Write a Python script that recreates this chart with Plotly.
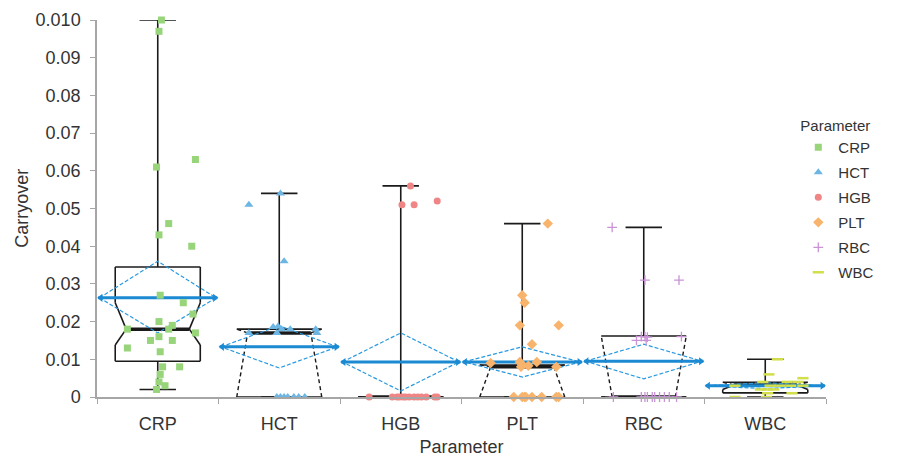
import plotly.graph_objects as go

categories = ["CRP", "HCT", "HGB", "PLT", "RBC", "WBC"]

# individual observations (value) and horizontal jitter (category units)
crp_vals = [0.100, 0.097, 0.063, 0.061, 0.046, 0.043, 0.040, 0.027, 0.025, 0.022, 0.020, 0.019, 0.018,
            0.018, 0.017, 0.016, 0.015, 0.015, 0.013, 0.012, 0.008, 0.008, 0.006, 0.004, 0.003, 0.002]
crp_jit = [0.03, 0.01, 0.31, -0.01, 0.09, 0.01, 0.28, 0.02, 0.21, 0.29, 0.01, 0.12, 0.09,
           -0.25, 0.31, 0.01, -0.06, 0.12, -0.25, 0.02, 0.04, 0.18, 0.02, 0.01, 0.06, -0.01]

hct_vals = [0.054, 0.051, 0.036, 0.0186, 0.0187, 0.018, 0.018, 0.018, 0.017, 0.017, 0.017,
            0, 0, 0, 0, 0, 0, 0]
hct_jit = [0.01, -0.25, 0.04, -0.05, -0.01, 0.02, 0.09, 0.30, 0.31, -0.25, -0.02,
           -0.02, 0.01, 0.04, 0.07, 0.12, 0.16, 0.21]

hgb_vals = [0.056, 0.051, 0.051, 0.052, 0, 0, 0, 0, 0, 0, 0, 0, 0, 0, 0, 0, 0]
hgb_jit = [0.08, 0.01, 0.11, 0.30, -0.26, -0.07, -0.03, -0.01, 0.02, 0.04, 0.07, 0.11, 0.14,
           0.17, 0.21, 0.28, 0.30]

plt_vals = [0.046, 0.027, 0.025, 0.019, 0.019, 0.014, 0.009, 0.0093, 0.0085, 0.008, 0.0083, 0.0093,
            0.008, 0, 0, 0, 0, 0, 0, 0, 0]
plt_jit = [0.21, 0.0, 0.02, -0.02, 0.30, 0.08, -0.26, -0.02, 0.0, -0.01, 0.05, 0.12,
           0.28, -0.07, 0.0, 0.02, 0.03, 0.08, 0.16, 0.28, 0.30]

rbc_vals = [0.045, 0.031, 0.031, 0.016, 0.016, 0.0159, 0.016, 0.015, 0.015,
            0, 0, 0, 0, 0, 0, 0, 0, 0, 0]
rbc_jit = [-0.26, 0.01, 0.29, -0.02, 0.01, 0.03, 0.31, -0.06, 0.02,
           -0.25, -0.02, 0.01, 0.03, 0.07, 0.09, 0.13, 0.17, 0.21, 0.27]

wbc_vals = [0.010, 0.006, 0.005, 0.004, 0.004, 0.004, 0.003, 0.003, 0.003, 0.003, 0.003,
            0.002, 0.002, 0.002, 0.001, 0.001, 0, 0]
wbc_jit = [0.10, 0.03, 0.31, -0.02, 0.18, 0.27, -0.25, 0.04, 0.12, 0.21, 0.31,
           -0.04, 0.02, 0.07, 0.02, 0.22, -0.25, 0.01]

# summary statistics per category
whisk_lo = [0.002, 0, 0, 0, 0, 0]
q1 = [0.0095, 0, 0, 0, 0, 0.0011]
median = [0.018, 0.017, 0, 0.008, 0, 0.0032]
q3 = [0.0345, 0.018, 0, 0.0085, 0.0162, 0.0039]
whisk_hi = [0.100, 0.054, 0.056, 0.046, 0.045, 0.010]
notch_lo = [0.0138, 0, 0, 0, 0, 0.0020]
notch_hi = [0.025, 0.018, 0, 0.0085, 0.0162, 0.0042]
means = [0.0263, 0.0133, 0.0093, 0.0093, 0.0095, 0.0030]
ci_lo = [0.017, 0.0077, 0.0016, 0.0053, 0.0048, 0.0022]
ci_hi = [0.036, 0.0189, 0.017, 0.0133, 0.014, 0.0038]

y_tickvals = [0, 0.01, 0.02, 0.03, 0.04, 0.05, 0.06, 0.07, 0.08, 0.09, 0.10]
y_ticktext = ["0", "0.01", "0.02", "0.03", "0.04", "0.05", "0.06", "0.07", "0.08", "0.09", "0.010"]

series = [
    ("CRP", crp_vals, crp_jit, "square", "#97d47a", 7),
    ("HCT", hct_vals, hct_jit, "triangle-up", "#6db6e3", 8),
    ("HGB", hgb_vals, hgb_jit, "circle", "#f08585", 7),
    ("PLT", plt_vals, plt_jit, "diamond", "#f8b36c", 8),
    ("RBC", rbc_vals, rbc_jit, "cross-thin", "#c993d6", 7),
    ("WBC", wbc_vals, wbc_jit, "line-ew", "#d2de4a", 8),
]

BW, NW, CW, DW = 0.35, 0.26, 0.15, 0.48
BLACK = "#1a1a1a"
BLUE = "#1b8ad2"
DBLUE = "#2a9ae0"

solid_x, solid_y, dash_x, dash_y = [], [], [], []
wx, wy, mx, my = [], [], [], []
dx, dy, lx, ly = [], [], [], []

def seg(xs, ys, a, b):
    xs.extend([a[0], b[0], None])
    ys.extend([a[1], b[1], None])

for i in range(len(categories)):
    c = i
    L, R, Ln, Rn = c - BW, c + BW, c - NW, c + NW
    lo_clip = notch_lo[i] <= q1[i]
    hi_clip = notch_hi[i] >= q3[i]
    nlo = max(notch_lo[i], q1[i])
    nhi = min(notch_hi[i], q3[i])
    seg(solid_x, solid_y, (L, q3[i]), (R, q3[i]))
    seg(solid_x, solid_y, (L, q1[i]), (R, q1[i]))
    for side, sn in ((L, Ln), (R, Rn)):
        if nlo > q1[i]:
            seg(solid_x, solid_y, (side, q1[i]), (side, nlo))
        if nhi < q3[i]:
            seg(solid_x, solid_y, (side, nhi), (side, q3[i]))
        if lo_clip:
            seg(dash_x, dash_y, (side, nlo), (sn, median[i]))
        else:
            seg(solid_x, solid_y, (side, nlo), (sn, median[i]))
        if hi_clip:
            seg(dash_x, dash_y, (sn, median[i]), (side, nhi))
        else:
            seg(solid_x, solid_y, (sn, median[i]), (side, nhi))
    seg(mx, my, (Ln, median[i]), (Rn, median[i]))
    seg(wx, wy, (c, q3[i]), (c, whisk_hi[i]))
    seg(wx, wy, (c - CW, whisk_hi[i]), (c + CW, whisk_hi[i]))
    seg(wx, wy, (c, q1[i]), (c, whisk_lo[i]))
    seg(wx, wy, (c - CW, whisk_lo[i]), (c + CW, whisk_lo[i]))
    dx.extend([c - DW, c, c + DW, c, c - DW, None])
    dy.extend([means[i], ci_hi[i], means[i], ci_lo[i], means[i], None])
    seg(lx, ly, (c - 0.49, means[i]), (c + 0.49, means[i]))

fig = go.Figure()
fig.add_trace(go.Scatter(x=wx, y=wy, mode="lines", line=dict(color=BLACK, width=1.6), showlegend=False, hoverinfo="skip"))
fig.add_trace(go.Scatter(x=solid_x, y=solid_y, mode="lines", line=dict(color=BLACK, width=1.6), showlegend=False, hoverinfo="skip"))
fig.add_trace(go.Scatter(x=dash_x, y=dash_y, mode="lines", line=dict(color=BLACK, width=1.4, dash="4px,3px"), showlegend=False, hoverinfo="skip"))
fig.add_trace(go.Scatter(x=mx, y=my, mode="lines", line=dict(color=BLACK, width=3.5), showlegend=False, hoverinfo="skip"))
fig.add_trace(go.Scatter(x=dx, y=dy, mode="lines", line=dict(color=DBLUE, width=1.2, dash="4px,2px"), showlegend=False, hoverinfo="skip"))
fig.add_trace(go.Scatter(x=lx, y=ly, mode="lines", line=dict(color=BLUE, width=3), showlegend=False, hoverinfo="skip"))
fig.add_trace(go.Scatter(x=[i - 0.47 for i in range(len(categories))], y=means, mode="markers",
                         marker=dict(symbol="triangle-left", size=7, color=BLUE), showlegend=False, hoverinfo="skip"))
fig.add_trace(go.Scatter(x=[i + 0.47 for i in range(len(categories))], y=means, mode="markers",
                         marker=dict(symbol="triangle-right", size=7, color=BLUE), showlegend=False, hoverinfo="skip"))

for idx, (name, vals, jit, sym, col, sz) in enumerate(series):
    if sym == "cross-thin":
        line = dict(width=1.3, color=col)
    elif sym == "line-ew":
        line = dict(width=2.5, color=col)
    else:
        line = dict(width=0)
    fig.add_trace(go.Scatter(
        x=[idx + j for j in jit], y=vals, mode="markers", name=name, legendgroup=name,
        marker=dict(symbol=sym, size=sz, color=col, line=line), cliponaxis=False,
    ))

fig.update_layout(
    width=901, height=457,
    margin=dict(l=97, r=75, t=20, b=60, autoexpand=False),
    paper_bgcolor="white", plot_bgcolor="white",
    font=dict(family="Liberation Sans, Arial, sans-serif", size=18, color="#333333"),
    legend=dict(title=dict(text="Parameter", font=dict(size=15)), x=0.962, xanchor="left", y=0.757, yanchor="top",
                font=dict(size=15), tracegroupgap=2.5, itemsizing="trace", bgcolor="rgba(0,0,0,0)"),
    xaxis=dict(range=[-0.5, 5.5], tickvals=list(range(len(categories))), ticktext=categories,
               ticks="", showline=True, linecolor="#a6a6a6", linewidth=1.5, showgrid=False, zeroline=False,
               ticklabelstandoff=10, automargin=False,
               minor=dict(tickmode="array", tickvals=[-0.5, 0.5, 1.5, 2.5, 3.5, 4.5, 5.5], ticks="outside",
                          ticklen=5, tickcolor="#a6a6a6", showgrid=False),
               title=dict(text="Parameter", font=dict(size=18))),
    yaxis=dict(range=[0, 0.1], tickvals=y_tickvals, ticktext=y_ticktext, ticks="outside", ticklen=5,
               tickcolor="#a6a6a6", showline=True, linecolor="#a6a6a6", linewidth=1.5, showgrid=False,
               zeroline=False, ticklabelstandoff=6, automargin=False),
    annotations=[dict(text="Carryover", xref="paper", yref="paper", x=-0.104, y=0.5,
                      xanchor="center", yanchor="middle", textangle=-90, showarrow=False,
                      font=dict(size=18, color="#333333"))],
)

fig.write_html("out.html")
